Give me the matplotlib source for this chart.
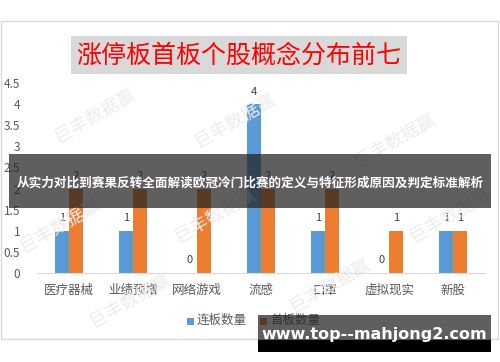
import matplotlib
matplotlib.use("Agg")
import matplotlib.pyplot as plt
from matplotlib.patches import Rectangle
import numpy as np

plt.rcParams['font.family'] = ['Noto Sans CJK SC', 'DejaVu Sans']

title = "涨停板首板个股概念分布前七"
categories = ["医疗器械", "业绩预增", "网络游戏", "流感", "口罩", "虚拟现实", "新股"]
series_names = ["连板数量", "首板数量"]
lianban = [1, 1, 0, 4, 1, 0, 1]
shouban = [2, 2, 2, 2, 2, 1, 1]
yticks = [0, 0.5, 1, 1.5, 2, 2.5, 3, 3.5, 4, 4.5]
ytick_labels = ["0", "0.5", "1", "1.5", "2", "2.5", "3", "3.5", "4", "4.5"]
banner_text = "从实力对比到赛果反转全面解读欧冠冷门比赛的定义与特征形成原因及判定标准解析"
site_text = "www.top--mahjong2.com"
watermark = "巨丰数据赢"

W, H = 500, 362
fig = plt.figure(figsize=(W / 100, H / 100), dpi=100)
fig.patch.set_facecolor("white")

def px(x, y):
    return (x / W, 1 - y / H)

# chart frame
fig.add_artist(Rectangle(px(1, 339), 497 / W, 318 / H, transform=fig.transFigure,
                         facecolor="white", edgecolor="#d9d9d9", lw=1, zorder=-1))

ax = fig.add_axes([37 / W, 1 - 273 / H, 448 / W, 190 / H])
ax.set_facecolor("none")
x = np.arange(len(categories))
w = 0.22
blue = "#5B9BD5"
orange = "#ED7D31"
b1 = ax.bar(x - w / 2, lianban, w, color=blue, label=series_names[0], zorder=2)
b2 = ax.bar(x + w / 2, shouban, w, color=orange, label=series_names[1], zorder=2)
for rects, vals in ((b1, lianban), (b2, shouban)):
    for r, v in zip(rects, vals):
        ax.text(r.get_x() + r.get_width() / 2, v + 0.18, str(v), ha="center", va="bottom",
                fontsize=8, color="#404040", zorder=3)

ax.set_xlim(-0.5, len(categories) - 0.5)
ax.set_ylim(0, 4.5)
ax.set_yticks(yticks)
ax.set_yticklabels(ytick_labels)
ax.set_xticks(x)
ax.set_xticklabels(categories)
for s in ("top", "right", "left"):
    ax.spines[s].set_visible(False)
ax.spines["bottom"].set_color("#d9d9d9")
ax.tick_params(axis="y", length=0, pad=12, labelsize=8.5, labelcolor="#595959")
ax.tick_params(axis="x", length=0, pad=8, labelsize=9, labelcolor="#595959")

# watermarks
for (wx, wy) in [(95, 115), (235, 120), (395, 140), (60, 225), (215, 215), (450, 215),
                 (130, 300), (330, 285)]:
    fig.text(*px(wx, wy), watermark, rotation=30, ha="center", va="center", fontsize=13,
             color="#ececec", zorder=1)

# title
fig.add_artist(Rectangle(px(71, 74), 336 / W, 38 / H, transform=fig.transFigure,
                         facecolor="#d9d9d9", edgecolor="none", zorder=4))
fig.text(*px(239, 56), title, ha="center", va="center", fontsize=18, color="#ff0000", zorder=5)

# legend
fig.add_artist(Rectangle(px(187, 325), 7 / W, 7 / H, transform=fig.transFigure,
                         facecolor=blue, edgecolor="none", zorder=4))
fig.text(*px(197, 320), series_names[0], ha="left", va="center", fontsize=9, color="#595959", zorder=4)
fig.add_artist(Rectangle(px(260, 325), 7 / W, 7 / H, transform=fig.transFigure,
                         facecolor=orange, edgecolor="none", zorder=4))
fig.text(*px(270, 320), series_names[1], ha="left", va="center", fontsize=9, color="#595959", zorder=4)

# overlay banner
fig.add_artist(Rectangle(px(9, 208), 482 / W, 54 / H, transform=fig.transFigure,
                         facecolor="#212121", alpha=0.72, edgecolor="none", zorder=6))
fig.text(*px(250, 183), banner_text, ha="center", va="center", fontsize=9.1,
         fontweight="bold", color="white", zorder=7)

# bottom site banner
fig.add_artist(Rectangle(px(258, 340), 233 / W, 25 / H, transform=fig.transFigure,
                         facecolor="#212121", alpha=0.72, edgecolor="none", zorder=6))
fig.add_artist(Rectangle(px(258, 352), 233 / W, 12 / H, transform=fig.transFigure,
                         facecolor="black", edgecolor="none", zorder=6))
fig.text(*px(374, 335), site_text, ha="center", va="center", fontsize=11.5,
         fontweight="bold", color="white", family="DejaVu Sans", zorder=7)

fig.savefig("out.png", dpi=100)
